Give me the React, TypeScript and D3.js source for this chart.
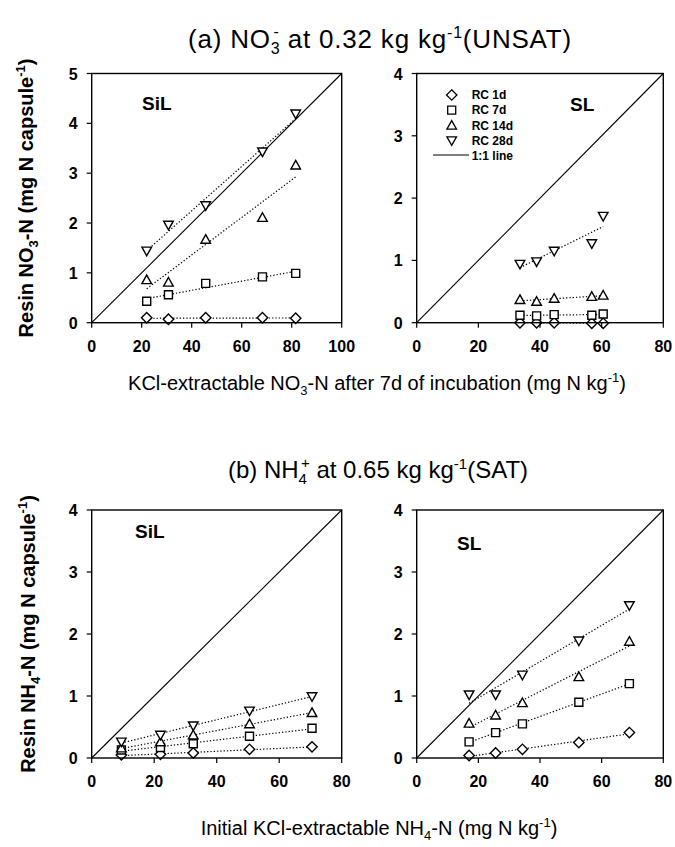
import React from "react";
import * as d3 from "d3";

// ---------- data ----------
const seriesNames = ["RC 1d", "RC 7d", "RC 14d", "RC 28d"];
const seriesSymbols = ["diamond", "square", "triangle", "triangleDown"];

// (a) NO3- , SiL
const aSiL_x = [22, 30.7, 45.6, 68.3, 81.6];
const aSiL_1d = [0.1, 0.07, 0.1, 0.1, 0.09];
const aSiL_7d = [0.43, 0.56, 0.79, 0.92, 0.99];
const aSiL_14d = [0.86, 0.81, 1.67, 2.11, 3.16];
const aSiL_28d = [1.44, 1.96, 2.35, 3.43, 4.19];

// (a) NO3- , SL
const aSL_x = [33.5, 38.9, 44.6, 56.8, 60.5];
const aSL_1d = [0.0, 0.0, 0.0, -0.01, -0.01];
const aSL_7d = [0.12, 0.11, 0.13, 0.12, 0.14];
const aSL_14d = [0.37, 0.34, 0.39, 0.42, 0.44];
const aSL_28d = [0.94, 0.98, 1.15, 1.27, 1.71];

// (b) NH4+ , SiL
const bSiL_x = [9.5, 22, 32.5, 50.5, 70.5];
const bSiL_1d = [0.05, 0.06, 0.08, 0.14, 0.18];
const bSiL_7d = [0.13, 0.17, 0.23, 0.35, 0.48];
const bSiL_14d = [0.16, 0.26, 0.37, 0.55, 0.73];
const bSiL_28d = [0.26, 0.37, 0.52, 0.76, 0.99];

// (b) NH4+ , SL
const bSL_x = [17, 25.6, 34.3, 52.6, 69];
const bSL_1d = [0.04, 0.08, 0.14, 0.25, 0.41];
const bSL_7d = [0.26, 0.41, 0.55, 0.9, 1.2];
const bSL_14d = [0.56, 0.69, 0.89, 1.31, 1.88];
const bSL_28d = [1.02, 1.02, 1.34, 1.89, 2.46];

const xTicksA = [0, 20, 40, 60, 80, 100];
const xTicks = [0, 20, 40, 60, 80];
const yTicksA = [0, 1, 2, 3, 4, 5];
const yTicks = [0, 1, 2, 3, 4];
const oneToOneSlope = 0.05; // "1:1 line" in plotted units

// ---------- layout ----------
const FONT = "'Liberation Sans', Arial, Helvetica, sans-serif";

const panels = [
  { id: "aSiL", xs: aSiL_x, ys: [aSiL_1d, aSiL_7d, aSiL_14d, aSiL_28d], xTicks: xTicksA, yTicks: yTicksA,
    left: 91.7, top: 73.5, width: 250, height: 249.2, label: "SiL", lx: 142, ly: 110, legend: false },
  { id: "aSL", xs: aSL_x, ys: [aSL_1d, aSL_7d, aSL_14d, aSL_28d], xTicks: xTicks, yTicks: yTicks,
    left: 416.7, top: 73.5, width: 246.6, height: 249.2, label: "SL", lx: 570, ly: 111, legend: true },
  { id: "bSiL", xs: bSiL_x, ys: [bSiL_1d, bSiL_7d, bSiL_14d, bSiL_28d], xTicks: xTicks, yTicks: yTicks,
    left: 91.7, top: 510, width: 250, height: 248, label: "SiL", lx: 135, ly: 538, legend: false },
  { id: "bSL", xs: bSL_x, ys: [bSL_1d, bSL_7d, bSL_14d, bSL_28d], xTicks: xTicks, yTicks: yTicks,
    left: 416.7, top: 510, width: 246.6, height: 248, label: "SL", lx: 457, ly: 550, legend: false },
];

function markerPath(kind: string): string {
  switch (kind) {
    case "diamond":
      return "M0,-5.2L5.2,0L0,5.2L-5.2,0Z";
    case "square":
      return "M-4,-4H4V4H-4Z";
    case "triangle":
      return "M0,-4.8L4.8,3.8L-4.8,3.8Z";
    default:
      return "M0,4.8L4.8,-3.8L-4.8,-3.8Z";
  }
}

function linreg(x: number[], y: number[]) {
  const mx = d3.mean(x) as number;
  const my = d3.mean(y) as number;
  let sxy = 0, sxx = 0;
  x.forEach((v, i) => {
    sxy += (v - mx) * (y[i] - my);
    sxx += (v - mx) * (v - mx);
  });
  const b = sxy / sxx;
  return { b, a: my - b * mx };
}

function Panel({ p }: { p: any }) {
  const xMax = p.xTicks[p.xTicks.length - 1];
  const yMax = p.yTicks[p.yTicks.length - 1];
  const x = d3.scaleLinear().domain([0, xMax]).range([p.left, p.left + p.width]);
  const y = d3.scaleLinear().domain([0, yMax]).range([p.top + p.height, p.top]);
  const line = d3.line<[number, number]>().x((d) => x(d[0])).y((d) => y(d[1]));
  const oneEnd = Math.min(xMax, yMax / oneToOneSlope);
  const bottom = p.top + p.height;
  return (
    <g>
      {/* 1:1 line */}
      <path d={line([[0, 0], [oneEnd, oneEnd * oneToOneSlope]]) || ""} stroke="#000" strokeWidth={1.1} fill="none" />
      {/* regression lines */}
      {p.ys.map((ys: number[], si: number) => {
        const { a, b } = linreg(p.xs, ys);
        const x0 = d3.min(p.xs) as number;
        const x1 = d3.max(p.xs) as number;
        return (
          <path key={"r" + si} d={line([[x0, a + b * x0], [x1, a + b * x1]]) || ""}
            stroke="#000" strokeWidth={1.2} strokeDasharray="1.3,2" fill="none" />
        );
      })}
      {/* markers */}
      {p.ys.map((ys: number[], si: number) =>
        ys.map((v, i) => (
          <path key={"m" + si + "-" + i} d={markerPath(seriesSymbols[si])}
            transform={`translate(${x(p.xs[i])},${y(v)})`} fill="#fff" stroke="#000" strokeWidth={1.4} />
        ))
      )}
      {/* frame */}
      <rect x={p.left} y={p.top} width={p.width} height={p.height} fill="none" stroke="#000" strokeWidth={1.4} />
      {/* ticks */}
      {p.xTicks.map((t: number) => (
        <g key={"xt" + t}>
          <line x1={x(t)} x2={x(t)} y1={bottom} y2={bottom + 5} stroke="#000" strokeWidth={1.2} />
          <text x={x(t)} y={bottom + 29} textAnchor="middle" fontSize={16} fontWeight={600} fontFamily={FONT}>{t}</text>
        </g>
      ))}
      {p.yTicks.map((t: number) => (
        <g key={"yt" + t}>
          <line x1={p.left - 5} x2={p.left} y1={y(t)} y2={y(t)} stroke="#000" strokeWidth={1.2} />
          <text x={p.left - 14} y={y(t) + 6} textAnchor="end" fontSize={16} fontWeight={600} fontFamily={FONT}>{t}</text>
        </g>
      ))}
      {/* soil label */}
      <text x={p.lx} y={p.ly} fontSize={19} fontWeight={600} fontFamily={FONT}>{p.label}</text>
      {p.legend && (
        <g fontFamily={FONT} fontSize={12} fontWeight={700}>
          {seriesNames.map((n, i) => (
            <g key={n}>
              <path d={markerPath(seriesSymbols[i])} transform={`translate(451.7,${95 + i * 15.2})`}
                fill="#fff" stroke="#000" strokeWidth={1.3} />
              <text x={471.7} y={95 + i * 15.2 + 4.2}>{n}</text>
            </g>
          ))}
          <line x1={433} x2={469} y1={155} y2={155} stroke="#000" strokeWidth={1} />
          <text x={471.7} y={159.5}>1:1 line</text>
        </g>
      )}
    </g>
  );
}

export default function App() {
  return (
    <svg width={675} height={847} style={{ position: "absolute", left: 0, top: 0, background: "#fff" }}
      fontFamily={FONT}>
      <rect x={0} y={0} width={675} height={847} fill="#fff" />
      {panels.map((p) => (
        <Panel key={p.id} p={p} />
      ))}
      {/* titles */}
      <text x={380} y={48} textAnchor="middle" fontSize={26} letterSpacing={0.8}>
        (a) NO<tspan dy={6} fontSize={16}>3</tspan>
        <tspan dx={-7} dy={-17} fontSize={16}>-</tspan>
        <tspan dy={11}> at 0.32 kg kg</tspan>
        <tspan dy={-10} fontSize={16}>-1</tspan>
        <tspan dy={10}>(UNSAT)</tspan>
      </text>
      <text x={378} y={478} textAnchor="middle" fontSize={24}>
        (b) NH<tspan dy={6} fontSize={15}>4</tspan>
        <tspan dx={-6} dy={-16} fontSize={15}>+</tspan>
        <tspan dy={10}> at 0.65 kg kg</tspan>
        <tspan dy={-9} fontSize={15}>-1</tspan>
        <tspan dy={9}>(SAT)</tspan>
      </text>
      {/* x axis titles */}
      <text x={377} y={390} textAnchor="middle" fontSize={20}>
        KCl-extractable NO<tspan dy={5} fontSize={13}>3</tspan>
        <tspan dy={-5}>-N after 7d of incubation (mg N kg</tspan>
        <tspan dy={-8} fontSize={13}>-1</tspan>
        <tspan dy={8}>)</tspan>
      </text>
      <text x={379} y={835} textAnchor="middle" fontSize={20}>
        Initial KCl-extractable NH<tspan dy={5} fontSize={13}>4</tspan>
        <tspan dy={-5}>-N (mg N kg</tspan>
        <tspan dy={-8} fontSize={13}>-1</tspan>
        <tspan dy={8}>)</tspan>
      </text>
      {/* y axis titles */}
      <text transform="translate(33,198) rotate(-90)" textAnchor="middle" fontSize={20} fontWeight={700}>
        Resin NO<tspan dy={5} fontSize={13}>3</tspan>
        <tspan dy={-5}>-N (mg N capsule</tspan>
        <tspan dy={-8} fontSize={13}>-1</tspan>
        <tspan dy={8}>)</tspan>
      </text>
      <text transform="translate(35,634) rotate(-90)" textAnchor="middle" fontSize={20} fontWeight={700}>
        Resin NH<tspan dy={5} fontSize={13}>4</tspan>
        <tspan dy={-5}>-N (mg N capsule</tspan>
        <tspan dy={-8} fontSize={13}>-1</tspan>
        <tspan dy={8}>)</tspan>
      </text>
    </svg>
  );
}
